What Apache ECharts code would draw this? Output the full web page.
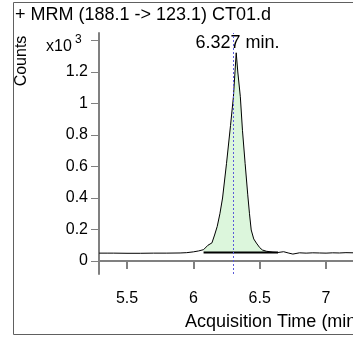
<!DOCTYPE html>
<html>
<head>
<meta charset="utf-8">
<script src="https://cdn.jsdelivr.net/npm/echarts@6/dist/echarts.min.js"></script>
<style>
  html, body { margin: 0; padding: 0; background: #fff; }
  #main { width: 353px; height: 340px; }
</style>
</head>
<body>
<div id="main"></div>
<script>
// acquisition time (min) and counts (x10^3)
const times = [5.29, 5.35, 5.4, 5.5, 5.6, 5.7, 5.8, 5.9, 5.95, 6.0, 6.04, 6.077, 6.11, 6.14, 6.16, 6.18,
  6.2, 6.22, 6.25, 6.28, 6.302, 6.323, 6.335, 6.354, 6.37, 6.39, 6.41, 6.423, 6.436, 6.455, 6.475,
  6.5, 6.52, 6.55, 6.6, 6.638, 6.68, 6.72, 6.75, 6.8, 6.85, 6.9, 6.95, 7.0, 7.05, 7.1, 7.15, 7.21];
const counts = [0.050, 0.050, 0.050, 0.049, 0.049, 0.050, 0.050, 0.051, 0.053, 0.058, 0.064, 0.072, 0.100, 0.115, 0.165, 0.220,
  0.300, 0.400, 0.620, 0.860, 1.043, 1.322, 1.200, 1.043, 0.830, 0.620, 0.420, 0.300, 0.197, 0.140, 0.114,
  0.085, 0.070, 0.062, 0.056, 0.054, 0.059, 0.050, 0.044, 0.052, 0.050, 0.052, 0.051, 0.050, 0.052, 0.051, 0.053, 0.052];

const xTicks = [5.5, 6, 6.5, 7];
const yTicks = [0, 0.2, 0.4, 0.6, 0.8, 1, 1.2, 1.4];

// integrated peak
const peakStart = 6.077;
const peakEnd = 6.638;
const peakBase = 0.054;
const rtMarker = 6.302;
const rtLabel = '6.327 min.';

const curve = times.map((t, i) => [t, counts[i]]);
const peakFill = curve.filter(p => p[0] >= peakStart && p[0] <= peakEnd);

const font = 'Liberation Sans, Arial, sans-serif';
const chart = echarts.init(document.getElementById('main'));

chart.setOption({
  animation: false,
  grid: { left: 99, right: 0, top: 33, bottom: 66 },
  xAxis: {
    type: 'value',
    min: 5.289,
    max: 7.203,
    axisLine: { show: true, lineStyle: { color: '#808080', width: 2 } },
    axisTick: { show: true, length: 8, customValues: xTicks, lineStyle: { color: '#808080', width: 2 } },
    axisLabel: { customValues: xTicks, margin: 17, color: '#000', fontSize: 16, fontFamily: font },
    splitLine: { show: false }
  },
  yAxis: {
    type: 'value',
    min: -0.0825,
    max: 1.4476,
    axisLine: { show: true, lineStyle: { color: '#808080', width: 2 } },
    axisTick: { show: true, length: 8, customValues: yTicks, lineStyle: { color: '#808080', width: 1 } },
    axisLabel: {
      customValues: yTicks, margin: 11, color: '#000', fontSize: 16, fontFamily: font,
      formatter: v => (v > 1.3 ? '' : String(v))
    },
    splitLine: { show: false }
  },
  series: [
    {
      type: 'line',
      data: peakFill,
      symbol: 'none',
      silent: true,
      lineStyle: { width: 0 },
      areaStyle: { color: '#dcf6dc', opacity: 1, origin: peakBase },
      z: 1
    },
    {
      type: 'line',
      data: curve,
      symbol: 'none',
      lineStyle: { color: '#000', width: 1 },
      z: 3,
      markLine: {
        silent: true,
        symbol: 'none',
        label: { show: false },
        lineStyle: { color: '#5a5ad8', type: [2, 2], width: 1, opacity: 1 },
        data: [[{ coord: [rtMarker, -0.0825] }, { coord: [rtMarker, 1.4476] }]]
      }
    },
    {
      type: 'line',
      data: [[peakStart, peakBase], [peakEnd, peakBase]],
      symbol: 'none',
      lineStyle: { color: '#000', width: 2 },
      z: 4
    }
  ],
  graphic: [
    {
      type: 'rect', silent: true,
      shape: { x: 13.5, y: 2.5, width: 400, height: 332 },
      style: { fill: 'none', stroke: '#606060', lineWidth: 1 }
    },
    {
      type: 'text', x: 15, y: 15,
      style: { text: '+ MRM (188.1 -> 123.1) CT01.d', font: '18px ' + font, fill: '#000', verticalAlign: 'middle' }
    },
    {
      type: 'text', x: 22, y: 61, rotation: Math.PI / 2,
      style: { text: 'Counts', font: '16px ' + font, fill: '#000', align: 'center', verticalAlign: 'middle' }
    },
    {
      type: 'text', x: 46, y: 47,
      style: { text: 'x10', font: '16px ' + font, fill: '#000', verticalAlign: 'middle' }
    },
    {
      type: 'text', x: 75, y: 40,
      style: { text: '3', font: '12px ' + font, fill: '#000', verticalAlign: 'middle' }
    },
    {
      type: 'text', x: 237.5, y: 43,
      style: { text: rtLabel, font: '18px ' + font, fill: '#000', align: 'center', verticalAlign: 'middle' }
    },
    {
      type: 'text', x: 185, y: 322,
      style: { text: 'Acquisition Time (min)', font: '18px ' + font, fill: '#000', verticalAlign: 'middle' }
    }
  ]
});
</script>
</body>
</html>
